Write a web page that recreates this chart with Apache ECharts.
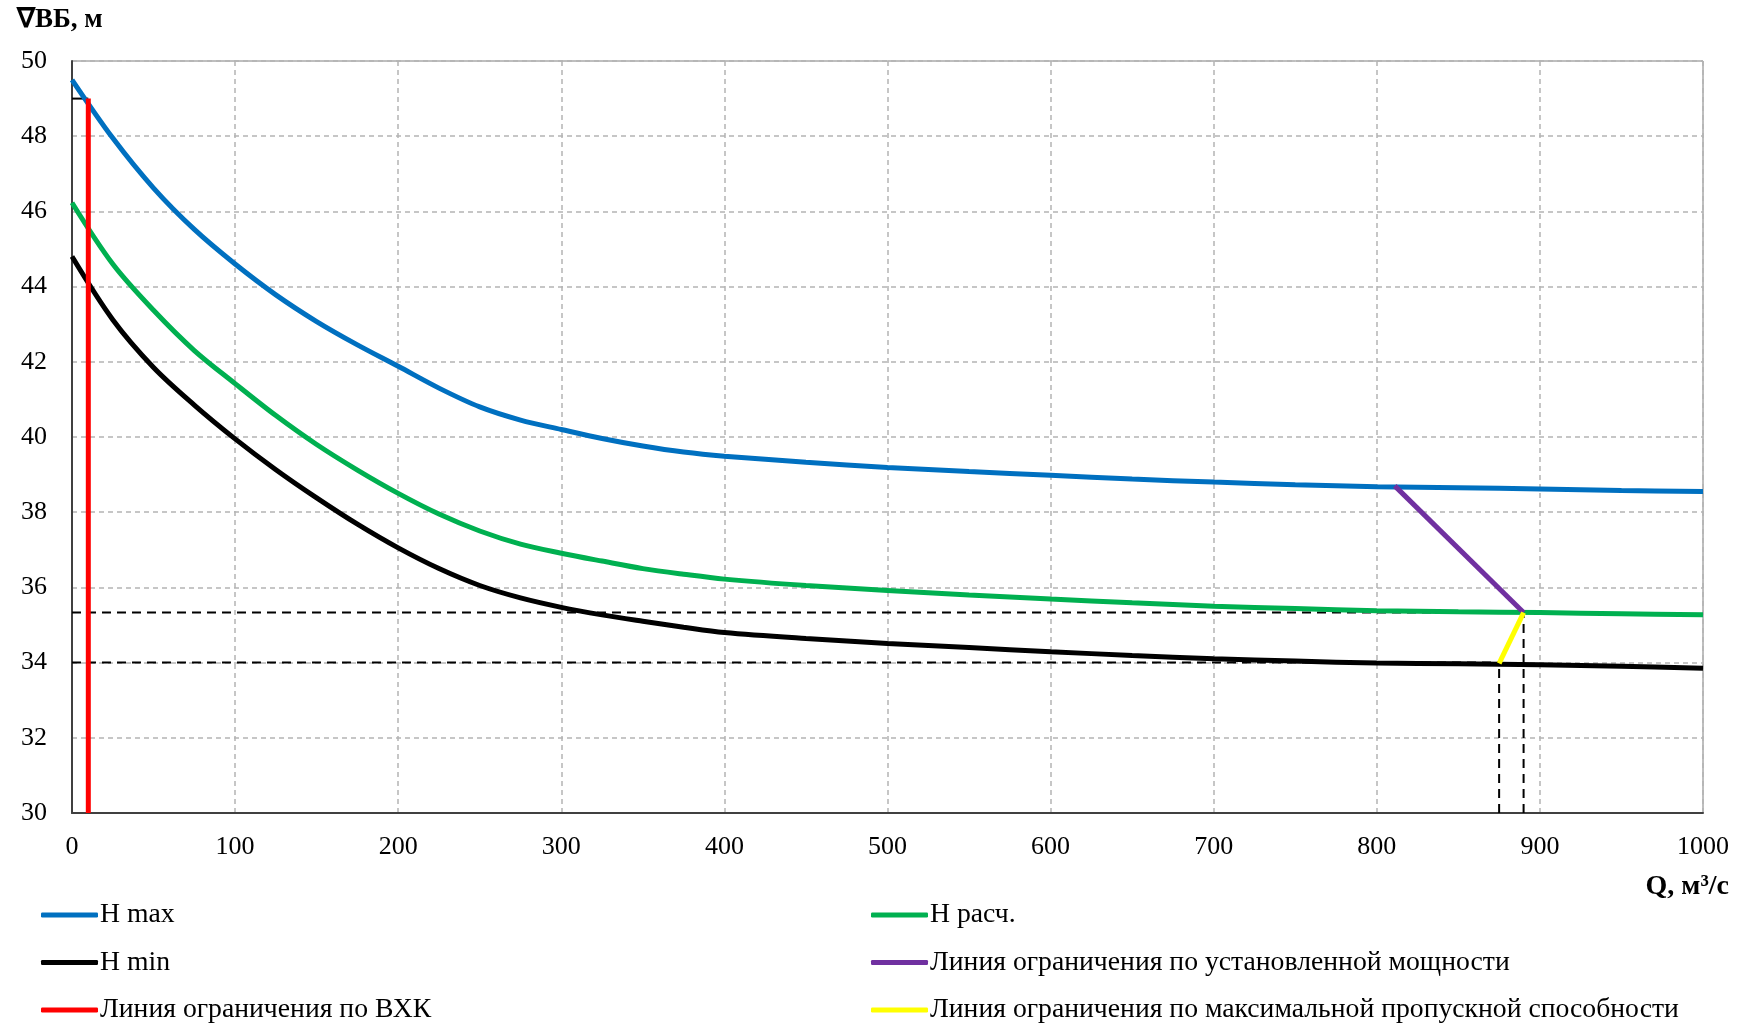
<!DOCTYPE html>
<html>
<head>
<meta charset="utf-8">
<script src="https://cdn.jsdelivr.net/npm/echarts@6/dist/echarts.min.js"></script>
<style>
html,body{margin:0;padding:0;background:#fff;}
#chart{width:1746px;height:1026px;}
</style>
</head>
<body>
<div id="chart"></div>
<script>
// Discharge Q, m3/s (shared by the three level curves)
var qValues = [0, 25, 50, 75, 100, 125, 150, 175, 200, 225, 250, 275, 300, 325, 350, 375, 400,
               450, 500, 550, 600, 650, 700, 750, 800, 850, 900, 950, 1000];
// Upstream level curves, m
var hMax  = [49.5, 47.95, 46.62, 45.52, 44.6, 43.78, 43.07, 42.45, 41.88, 41.3, 40.8, 40.45, 40.2, 39.96, 39.76, 39.6, 39.49,
             39.33, 39.19, 39.08, 38.98, 38.88, 38.8, 38.73, 38.68, 38.65, 38.62, 38.58, 38.55];
var hCalc = [46.23, 44.6, 43.37, 42.3, 41.42, 40.57, 39.8, 39.12, 38.5, 37.95, 37.5, 37.15, 36.91, 36.7, 36.5, 36.35, 36.22,
             36.05, 35.92, 35.8, 35.69, 35.59, 35.5, 35.44, 35.38, 35.35, 35.33, 35.3, 35.27];
var hMin  = [44.8, 43.12, 41.85, 40.85, 39.95, 39.13, 38.38, 37.68, 37.05, 36.5, 36.05, 35.72, 35.47, 35.27, 35.1, 34.94, 34.8,
             34.64, 34.51, 34.4, 34.29, 34.19, 34.1, 34.04, 33.99, 33.97, 33.94, 33.9, 33.85];

// Limit lines
var vhkQ = [10, 10];           var vhkH = [30, 49];
var vhkMarkQ = [0, 10];        var vhkMarkH = [49, 49];
var powerQ = [811, 890];       var powerH = [38.7, 35.33];
var capacityQ = [875, 890];    var capacityH = [33.98, 35.33];

// Dashed reference lines
var refQ = [875, 890];
var refH = [34.0, 35.33];

// Axis ticks
var xMin = 0, xMax = 1000, xStep = 100;
var yMin = 30, yMax = 50, yStep = 2;

var names = ['H max', 'H расч.', 'H min', 'Линия ограничения по установленной мощности', 'Линия ограничения по ВХК', 'Линия ограничения по максимальной пропускной способности'];

function zip(a, b) { return a.map(function (v, i) { return [v, b[i]]; }); }

var FONT = '"Liberation Serif", "Times New Roman", serif';

var chart = echarts.init(document.getElementById('chart'), null, {renderer: 'canvas'});

function dashed(data) {
  return {
    type: 'line', data: data, showSymbol: false, silent: true, z: 2,
    lineStyle: {color: '#000', width: 2, type: [9, 6]}
  };
}

function legendCol(left, data) {
  return {orient: 'vertical', left: left, top: 901, padding: 0, itemGap: 19.5, itemWidth: 57, itemHeight: 5, icon: 'roundRect',
    data: data,
    textStyle: {fontFamily: FONT, fontSize: 27.7, lineHeight: 28, color: '#000', padding: [0, 0, 0, -3]}};
}

var option = {
  backgroundColor: '#ffffff',
  animation: false,
  textStyle: {fontFamily: FONT},
  title: [
    {text: '∇ВБ, м', left: 17, top: 7, padding: 0,
     textStyle: {fontFamily: FONT, fontSize: 27, fontWeight: 'bold', color: '#000'}},
    {text: 'Q, м³/с', right: 17, top: 873, padding: 0,
     textStyle: {fontFamily: FONT, fontSize: 28, fontWeight: 'bold', color: '#000'}}
  ],
  grid: {left: 72, right: 43, top: 61, bottom: 213, show: true, borderColor: '#7f7f7f', borderWidth: 1, outerBoundsMode: 'none'},
  legend: [
    legendCol(41, [names[0], names[2], names[4]]),
    legendCol(871, [names[1], names[3], names[5]])
  ],
  xAxis: {
    type: 'value', min: xMin, max: xMax, interval: xStep,
    axisLine: {show: true, onZero: false, lineStyle: {color: '#404040', width: 2}},
    axisTick: {show: false},
    axisLabel: {fontFamily: FONT, fontSize: 26, color: '#000', margin: 21, formatter: function (v) { return String(v); }},
    splitLine: {show: true, lineStyle: {color: '#b4b4b4', width: 1.5, type: [5, 4]}}
  },
  yAxis: {
    type: 'value', min: yMin, max: yMax, interval: yStep,
    axisLine: {show: true, onZero: false, lineStyle: {color: '#404040', width: 2}},
    axisTick: {show: false},
    axisLabel: {fontFamily: FONT, fontSize: 26, color: '#000', margin: 25},
    splitLine: {show: true, lineStyle: {color: '#b4b4b4', width: 1.5, type: [5, 4]}}
  },
  series: [
    dashed([[0, refH[1]], [refQ[1], refH[1]]]),
    dashed([[0, refH[0]], [refQ[0], refH[0]]]),
    dashed([[refQ[0], yMin], [refQ[0], refH[0]]]),
    dashed([[refQ[1], yMin], [refQ[1], refH[1]]]),
    {type: 'line', data: zip(vhkMarkQ, vhkMarkH), showSymbol: false, silent: true, z: 2,
     lineStyle: {color: '#000', width: 2}},
    {name: names[0], type: 'line', data: zip(qValues, hMax), smooth: 0.33, showSymbol: false,
     color: '#0070C0', lineStyle: {color: '#0070C0', width: 5}, z: 3},
    {name: names[1], type: 'line', data: zip(qValues, hCalc), smooth: 0.33, showSymbol: false,
     color: '#00B050', lineStyle: {color: '#00B050', width: 5}, z: 3},
    {name: names[2], type: 'line', data: zip(qValues, hMin), smooth: 0.33, showSymbol: false,
     color: '#000000', lineStyle: {color: '#000000', width: 5}, z: 3},
    {name: names[3], type: 'line', data: zip(powerQ, powerH), showSymbol: false,
     color: '#7030A0', lineStyle: {color: '#7030A0', width: 5}, z: 4},
    {name: names[5], type: 'line', data: zip(capacityQ, capacityH), showSymbol: false,
     color: '#FFFF00', lineStyle: {color: '#FFFF00', width: 5}, z: 4},
    {name: names[4], type: 'line', data: zip(vhkQ, vhkH), showSymbol: false,
     color: '#FF0000', lineStyle: {color: '#FF0000', width: 5}, z: 5}
  ]
};
chart.setOption(option);
</script>
</body>
</html>
